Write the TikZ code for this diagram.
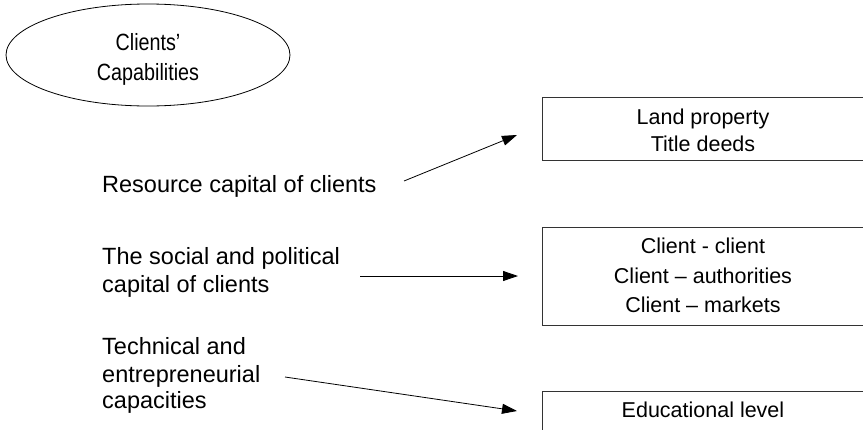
\documentclass[tikz,border=0pt]{standalone}
\usepackage{fontspec}
\setmainfont{Liberation Sans}
\newfontfamily\condfont[FakeStretch=0.84]{Liberation Sans}
\usetikzlibrary{arrows.meta,shapes.geometric}
\tikzset{
  lbl/.style={font=\fontsize{23.5}{28}\selectfont, inner sep=0pt, anchor=base west},
  boxtxt/.style={font=\fontsize{21.5}{28}\selectfont, inner sep=0pt, anchor=base},
  elltxt/.style={font=\condfont\fontsize{23.5}{28}\selectfont, inner sep=0pt, anchor=base},
  arr/.style={-{Triangle[length=15pt,width=10pt]}, line width=0.8pt},
  boxframe/.style={draw=black!80, line width=1pt, anchor=north west, inner sep=0pt, minimum width=330pt},
  ell/.style={draw, ellipse, line width=0.8pt, inner sep=0pt, minimum width=284pt, minimum height=102pt}
}
\begin{document}
\begin{tikzpicture}[x=1pt,y=-1pt]
\useasboundingbox (0,0) rectangle (863,429);
\clip (0,0) rectangle (863,429);
% ellipse
\node[ell] (cap) at (148,55) {};
\node[elltxt] (cap1) at (148,50) {Clients’};
\node[elltxt] (cap2) at (148,80) {Capabilities};
% boxes
\node[boxframe, minimum height=63pt] (b1) at (542,97) {};
\node[boxtxt] (b1a) at (703,124) {Land property};
\node[boxtxt] (b1b) at (703,151) {Title deeds};
\node[boxframe, minimum height=98pt] (b2) at (542,227) {};
\node[boxtxt] (b2a) at (703,253) {Client - client};
\node[boxtxt] (b2b) at (703,283) {Client – authorities};
\node[boxtxt] (b2c) at (703,312) {Client – markets};
\node[boxframe, minimum height=60pt] (b3) at (542,391) {};
\node[boxtxt] (b3a) at (703,417) {Educational level};
% left labels
\node[lbl] (r1) at (102,192) {Resource capital of clients};
\node[lbl] (s1) at (102,264) {The social and political};
\node[lbl] (s2) at (102,292) {capital of clients};
\node[lbl] (t1) at (102,354) {Technical and};
\node[lbl] (t2) at (102,382) {entrepreneurial};
\node[lbl] (t3) at (102,408) {capacities};
% arrows
\coordinate (a1s) at (404,181);
\coordinate (a1e) at (517,135);
\coordinate (a2s) at (360,276);
\coordinate (a2e) at (518,276);
\coordinate (a3s) at (285,377);
\coordinate (a3e) at (517,411);
\draw[arr] (a1s) -- (a1e);
\draw[arr] (a2s) -- (a2e);
\draw[arr] (a3s) -- (a3e);
\end{tikzpicture}
\end{document}
